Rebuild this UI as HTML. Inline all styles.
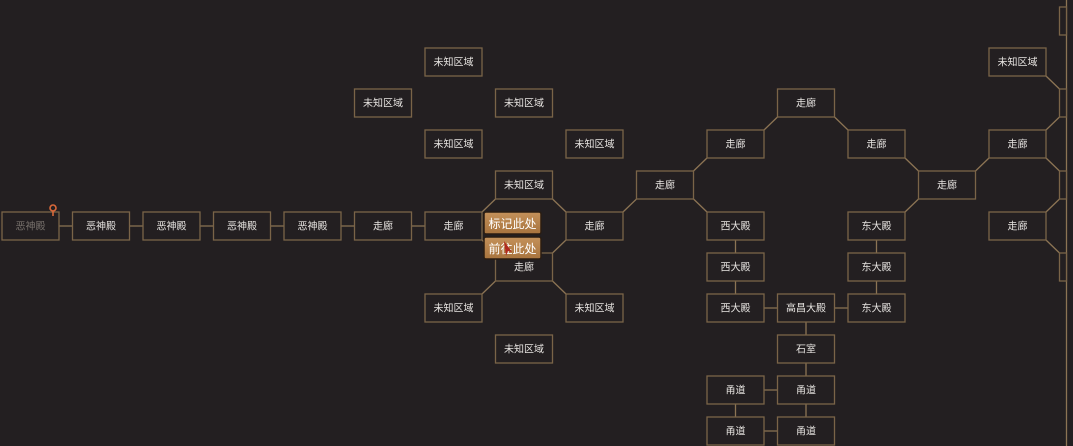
<!DOCTYPE html>
<html><head><meta charset="utf-8"><style>
html,body{margin:0;padding:0;background:#231f21;width:1073px;height:446px;overflow:hidden}
svg text{font-family:"Liberation Sans","Noto Sans CJK SC",sans-serif;font-size:10px;fill:#e6e3e0;text-anchor:middle;dominant-baseline:central}
.n{fill:#231f21;stroke:#7a6448;stroke-width:1.3}
.l{stroke:#8c7454;stroke-width:1.3;fill:none}
</style></head><body>
<svg width="1073" height="446" xmlns="http://www.w3.org/2000/svg">
<g class="l">
<path d="M59 226H72.5M129.5 226H143M200 226H213.5M270.5 226H284M341 226H354.5M411.5 226H425"/>
<path d="M482 212L495.5 199M482 240L495.5 253M552.5 199L566 212M552.5 253L566 240M495.5 281L482 294M552.5 281L566 294"/>
<path d="M623 212L636.5 199M693.5 171L707 158M693.5 199L707 212M764 130L777.5 117M834.5 117L848 130M905 158L918.5 171M905 212L918.5 199M975.5 171L989 158"/>
<path d="M1046 76L1059.5 89M1046 130L1059.5 117M1046 158L1059.5 171M1046 212L1059.5 199M1046 240L1059.5 253"/>
<path d="M735.5 240V253M735.5 281V294M876.5 240V253M876.5 281V294M806 322V335M806 363V376M806 404V417M735.5 404V417"/>
<path d="M764 308H777.5M834.5 308H848M764 390H777.5M764 431H777.5"/>
<path d="M1066.5 0V446"/>
</g>
<g class="n">
<rect x="1059.5" y="7" width="7" height="28"/><rect x="1059.5" y="89" width="7" height="28"/><rect x="1059.5" y="171" width="7" height="28"/><rect x="1059.5" y="253" width="7" height="28"/>
</g>
<g transform="translate(0,0)">
<rect class="n" x="2" y="212" width="57" height="28"/><text x="30.5" y="227" style="fill:#77716c">恶神殿</text>
<rect class="n" x="72.5" y="212" width="57" height="28"/><text x="101" y="227">恶神殿</text>
<rect class="n" x="143" y="212" width="57" height="28"/><text x="171.5" y="227">恶神殿</text>
<rect class="n" x="213.5" y="212" width="57" height="28"/><text x="242" y="227">恶神殿</text>
<rect class="n" x="284" y="212" width="57" height="28"/><text x="312.5" y="227">恶神殿</text>
<rect class="n" x="354.5" y="212" width="57" height="28"/><text x="383" y="227">走廊</text>
<rect class="n" x="425" y="212" width="57" height="28"/><text x="453.5" y="227">走廊</text>
<rect class="n" x="425" y="48" width="57" height="28"/><text x="453.5" y="63">未知区域</text>
<rect class="n" x="989" y="48" width="57" height="28"/><text x="1017.5" y="63">未知区域</text>
<rect class="n" x="354.5" y="89" width="57" height="28"/><text x="383" y="104">未知区域</text>
<rect class="n" x="495.5" y="89" width="57" height="28"/><text x="524" y="104">未知区域</text>
<rect class="n" x="777.5" y="89" width="57" height="28"/><text x="806" y="104">走廊</text>
<rect class="n" x="425" y="130" width="57" height="28"/><text x="453.5" y="145">未知区域</text>
<rect class="n" x="566" y="130" width="57" height="28"/><text x="594.5" y="145">未知区域</text>
<rect class="n" x="707" y="130" width="57" height="28"/><text x="735.5" y="145">走廊</text>
<rect class="n" x="848" y="130" width="57" height="28"/><text x="876.5" y="145">走廊</text>
<rect class="n" x="989" y="130" width="57" height="28"/><text x="1017.5" y="145">走廊</text>
<rect class="n" x="495.5" y="171" width="57" height="28"/><text x="524" y="186">未知区域</text>
<rect class="n" x="636.5" y="171" width="57" height="28"/><text x="665" y="186">走廊</text>
<rect class="n" x="918.5" y="171" width="57" height="28"/><text x="947" y="186">走廊</text>
<rect class="n" x="566" y="212" width="57" height="28"/><text x="594.5" y="227">走廊</text>
<rect class="n" x="707" y="212" width="57" height="28"/><text x="735.5" y="227">西大殿</text>
<rect class="n" x="848" y="212" width="57" height="28"/><text x="876.5" y="227">东大殿</text>
<rect class="n" x="989" y="212" width="57" height="28"/><text x="1017.5" y="227">走廊</text>
<rect class="n" x="495.5" y="253" width="57" height="28"/><text x="524" y="268">走廊</text>
<rect class="n" x="707" y="253" width="57" height="28"/><text x="735.5" y="268">西大殿</text>
<rect class="n" x="848" y="253" width="57" height="28"/><text x="876.5" y="268">东大殿</text>
<rect class="n" x="425" y="294" width="57" height="28"/><text x="453.5" y="309">未知区域</text>
<rect class="n" x="566" y="294" width="57" height="28"/><text x="594.5" y="309">未知区域</text>
<rect class="n" x="707" y="294" width="57" height="28"/><text x="735.5" y="309">西大殿</text>
<rect class="n" x="777.5" y="294" width="57" height="28"/><text x="806" y="309">高昌大殿</text>
<rect class="n" x="848" y="294" width="57" height="28"/><text x="876.5" y="309">东大殿</text>
<rect class="n" x="495.5" y="335" width="57" height="28"/><text x="524" y="350">未知区域</text>
<rect class="n" x="777.5" y="335" width="57" height="28"/><text x="806" y="350">石室</text>
<rect class="n" x="707" y="376" width="57" height="28"/><text x="735.5" y="391">甬道</text>
<rect class="n" x="777.5" y="376" width="57" height="28"/><text x="806" y="391">甬道</text>
<rect class="n" x="707" y="417" width="57" height="28"/><text x="735.5" y="432">甬道</text>
<rect class="n" x="777.5" y="417" width="57" height="28"/><text x="806" y="432">甬道</text>
</g>
<circle cx="53" cy="208" r="3" fill="none" stroke="#d9683a" stroke-width="1.6"/>
<path d="M53 216V211" stroke="#d9683a" stroke-width="1.6"/>
<defs><linearGradient id="g" x1="0" y1="0" x2="0" y2="1"><stop offset="0" stop-color="#c4915a"/><stop offset="1" stop-color="#a8743e"/></linearGradient></defs>
<rect x="484" y="212" width="57" height="22" rx="2" fill="url(#g)" stroke="#2a1d12" stroke-width="1.5"/>
<text x="512.5" y="224" style="font-size:12px;fill:#fff">标记此处</text>
<rect x="484" y="237" width="57" height="22" rx="2" fill="url(#g)" stroke="#2a1d12" stroke-width="1.5"/>
<text x="512.5" y="249" style="font-size:12px;fill:#fff">前往此处</text>
<path d="M504 241L512 252L508 251L506 256Z" fill="#b02a1e"/>
</svg>
</body></html>
